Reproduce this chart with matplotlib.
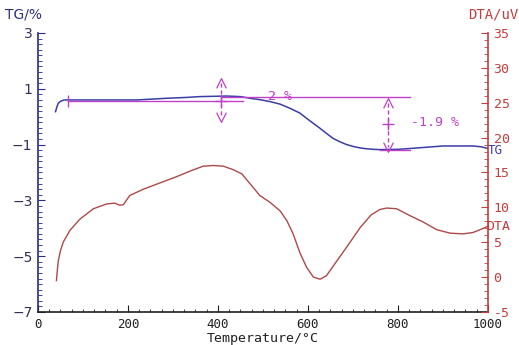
import matplotlib
matplotlib.use("Agg")
import matplotlib.pyplot as plt
from matplotlib.ticker import MultipleLocator

# ---- data ----
tg_temp = [39, 42, 45, 50, 58, 80, 140, 220, 286, 330, 360, 390, 419, 450, 471,
           493, 516, 538, 560, 582, 597, 612, 627, 642, 656, 671, 686, 701, 716,
           730, 745, 760, 800, 827, 860, 900, 940, 967, 985, 1000]
tg_val = [0.18, 0.35, 0.48, 0.55, 0.6, 0.6, 0.6, 0.6, 0.66, 0.69, 0.72, 0.73, 0.74,
          0.72, 0.66, 0.61, 0.54, 0.45, 0.30, 0.13, -0.06, -0.24, -0.42, -0.61,
          -0.78, -0.9, -1.0, -1.07, -1.12, -1.15, -1.17, -1.18, -1.17, -1.14, -1.1,
          -1.05, -1.05, -1.05, -1.08, -1.14]

dta_temp = [41, 43, 45, 50, 56, 71, 93, 123, 153, 171, 182, 190, 204, 234, 271, 308,
            338, 367, 390, 412, 434, 453, 471, 493, 516, 538, 553, 567, 582, 597,
            612, 627, 641, 664, 686, 716, 740, 760, 775, 797, 827, 856, 886, 916,
            945, 967, 990, 1000]
dta_val = [-0.5, 1.0, 2.3, 3.8, 5.0, 6.7, 8.3, 9.8, 10.5, 10.6, 10.3, 10.4, 11.7,
           12.6, 13.5, 14.4, 15.2, 15.9, 16.0, 15.9, 15.4, 14.8, 13.4, 11.7, 10.7,
           9.5, 8.1, 6.2, 3.5, 1.4, 0.0, -0.3, 0.2, 2.3, 4.3, 7.1, 8.9, 9.7, 9.9,
           9.8, 8.8, 7.9, 6.8, 6.3, 6.2, 6.4, 7.0, 7.3]

x_ticks = [0, 200, 400, 600, 800, 1000]
tg_ticks = [3, 1, -1, -3, -5, -7]
dta_ticks = [35, 30, 25, 20, 15, 10, 5, 0, -5]

# annotation values
step1_T = 407
step1_lines = (0.57, 0.72)
step1_text = "2 %"
step2_T = 778
step2_lines = (0.72, -1.18)
step2_text = "-1.9 %"

# ---- styling ----
NAVY = '#28288c'
TGC = '#3c3ca8'
RED = '#c83c3c'
DTAC = '#b04848'
MAG = '#c040c8'
MONO = 'DejaVu Sans Mono'

fig = plt.figure(figsize=(5.19, 3.45), dpi=100)
ax = fig.add_axes([0.0732, 0.0957, 0.8670, 0.8087])
ax2 = ax.twinx()

ax.set_xlim(0, 1000)
ax.set_ylim(-7, 3)
ax2.set_ylim(-5, 35)

for a in (ax, ax2):
    a.spines['top'].set_visible(False)
ax.spines['right'].set_visible(False)
ax2.spines['left'].set_visible(False)
ax2.spines['bottom'].set_visible(False)
ax.spines['left'].set_color(NAVY)
ax.spines['bottom'].set_color('#202020')
ax2.spines['right'].set_color(RED)
for s in (ax.spines['left'], ax.spines['bottom'], ax2.spines['right']):
    s.set_linewidth(1.2)

ax.set_xticks(x_ticks)
ax.set_xticklabels([str(t) for t in x_ticks], fontfamily=MONO, fontsize=9)
ax.xaxis.set_minor_locator(MultipleLocator(25))
ax.set_yticks(tg_ticks)
ax.set_yticklabels([str(t).replace('-', '\u2212') for t in tg_ticks], fontsize=10)
ax.yaxis.set_minor_locator(MultipleLocator(0.2))
ax2.set_yticks(dta_ticks)
ax2.set_yticklabels([str(t) for t in dta_ticks], fontfamily=MONO, fontsize=9.5)
ax2.yaxis.set_minor_locator(MultipleLocator(1))

ax.tick_params(axis='x', which='major', direction='in', length=5, color='#202020',
               labelcolor='#202020', pad=4.5)
ax.tick_params(axis='x', which='minor', direction='in', length=2.5, color='#202020')
ax.tick_params(axis='y', which='major', direction='in', length=5, color=NAVY,
               labelcolor='#30305a', pad=4)
ax.tick_params(axis='y', which='minor', direction='in', length=3, color=NAVY)
ax2.tick_params(axis='y', which='major', direction='in', length=5, color=RED,
                labelcolor=RED, pad=4)
ax2.tick_params(axis='y', which='minor', direction='in', length=3, color=RED)

# curves
ax.plot(tg_temp, tg_val, color=TGC, lw=1.1, zorder=3)
ax2.plot(dta_temp, dta_val, color=DTAC, lw=1.0, zorder=3)

# annotations (on TG axes)
ax.plot([67, 456], [step1_lines[0]] * 2, color=MAG, lw=1.0, zorder=4)
ax.plot([67], [step1_lines[0]], marker='|', ms=9, color=MAG, mew=1.0, zorder=4)
ax.plot([step1_T, 827], [step1_lines[1]] * 2, color=MAG, lw=1.0, zorder=4)
ax.plot([step1_T, step1_T], [1.2, -0.0], color=MAG, lw=1.0, ls=(0, (3, 2)), zorder=4)
ax.plot([step1_T], [step1_lines[0]], marker='+', ms=8, color=MAG, mew=1.0, zorder=4)
chev_up = [(-1, -1), (0, 1), (1, -1)]
chev_dn = [(-1, 1), (0, -1), (1, 1)]
ax.plot([step1_T], [1.2], marker=chev_up, ms=7, color=MAG, mew=0.9,
        fillstyle='none', ls='none', zorder=4)
ax.plot([step1_T], [0.0], marker=chev_dn, ms=7, color=MAG, mew=0.9,
        fillstyle='none', ls='none', zorder=4)
ax.text(512, 0.72, step1_text, color=MAG, fontsize=9.5, fontfamily=MONO,
        ha='left', va='center', zorder=5)

ax.plot([760, 827], [step2_lines[1]] * 2, color=MAG, lw=1.0, zorder=4)
ax.plot([step2_T, step2_T], [0.5, -1.1], color=MAG, lw=1.0, ls=(0, (3, 2)), zorder=4)
ax.plot([step2_T], [-0.25], marker='+', ms=8, color=MAG, mew=1.0, zorder=4)
ax.plot([step2_T], [0.5], marker=chev_up, ms=7, color=MAG, mew=0.9,
        fillstyle='none', ls='none', zorder=4)
ax.plot([step2_T], [-1.1], marker=chev_dn, ms=7, color=MAG, mew=0.9,
        fillstyle='none', ls='none', zorder=4)
ax.text(830, -0.22, step2_text, color=MAG, fontsize=9.5, fontfamily=MONO,
        ha='left', va='center', zorder=5)

# curve end labels
ax.text(1000, tg_val[-1] - 0.08, "TG", color=TGC, fontsize=9, fontfamily=MONO,
        ha='left', va='center', zorder=5)
ax2.text(995, dta_val[-1], "DTA", color=RED, fontsize=9.5, fontfamily=MONO,
         ha='left', va='center', zorder=5)

# axis titles
fig.text(5 / 519, 1 - 14 / 345, "TG/%", color='#303080', fontsize=10,
         ha='left', va='center')
fig.text(518 / 519, 1 - 14 / 345, "DTA/uV", color=RED, fontsize=10,
         fontfamily=MONO, ha='right', va='center')
fig.text(263 / 519, 1 - 338.5 / 345, "Temperature/\u00b0C", color='#202020',
         fontsize=9.5, fontfamily=MONO, ha='center', va='center')

fig.savefig("out.png", dpi=100)
